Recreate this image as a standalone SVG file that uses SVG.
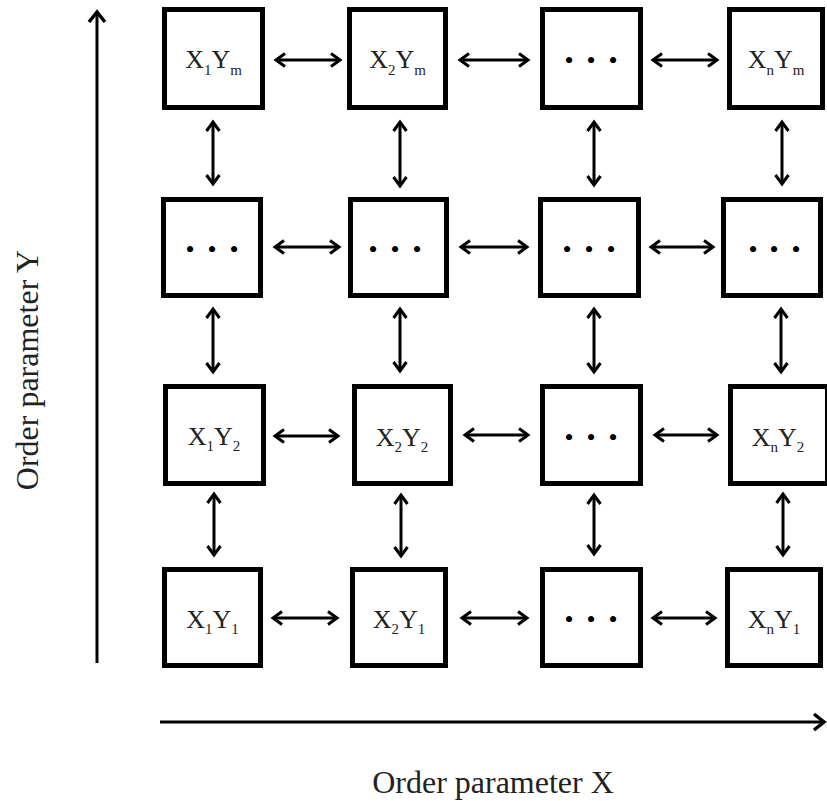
<svg xmlns="http://www.w3.org/2000/svg" width="827" height="801" viewBox="0 0 827 801">
<style>
.box{fill:#fff;stroke:#000;stroke-width:5}
.lbl{font-family:"Liberation Serif","Times New Roman",serif;font-size:26px;fill:#222;text-anchor:middle}
.sub{font-size:15px}
.dots{font-family:"Liberation Serif","Times New Roman",serif;font-size:26px;fill:#000;text-anchor:middle}
.ax{font-family:"Liberation Serif","Times New Roman",serif;font-size:32px;fill:#222;text-anchor:middle}
.c{stroke:#000;stroke-width:3;fill:none;marker-start:url(#ah);marker-end:url(#ah)}
.axis{stroke:#000;stroke-width:3;fill:none;marker-end:url(#axh)}
</style>
<defs>
<marker id="ah" markerUnits="userSpaceOnUse" markerWidth="20" markerHeight="20" refX="12" refY="8" orient="auto-start-reverse" overflow="visible">
<path d="M3,1.5 L12,8 L3,14.5" fill="none" stroke="#000" stroke-width="3" stroke-linejoin="miter"/>
</marker>
<marker id="axh" markerUnits="userSpaceOnUse" markerWidth="24" markerHeight="24" refX="13" refY="10" orient="auto" overflow="visible">
<path d="M3,2 L13,10 L3,18" fill="none" stroke="#000" stroke-width="3.5" stroke-linejoin="miter"/>
</marker>
</defs>

<g id="axes">
<line class="axis" x1="97" y1="663" x2="97" y2="12"/>
<line class="axis" x1="160" y1="722" x2="824" y2="722"/>
<text class="ax" transform="translate(38,370) rotate(-90)">Order parameter Y</text>
<text class="ax" x="493" y="793">Order parameter X</text>
</g>

<g id="connectors">
<!-- horizontal row 1 -->
<line class="c" x1="276" y1="60" x2="340" y2="60"/>
<line class="c" x1="460" y1="60" x2="528" y2="60"/>
<line class="c" x1="653" y1="60" x2="717" y2="60"/>
<!-- row 2 -->
<line class="c" x1="275" y1="247" x2="339" y2="247"/>
<line class="c" x1="461" y1="247" x2="527" y2="247"/>
<line class="c" x1="651" y1="247" x2="713" y2="247"/>
<!-- row 3 -->
<line class="c" x1="275" y1="436" x2="338" y2="436"/>
<line class="c" x1="465" y1="435" x2="528" y2="435"/>
<line class="c" x1="655" y1="435" x2="717" y2="435"/>
<!-- row 4 -->
<line class="c" x1="273" y1="618" x2="337" y2="618"/>
<line class="c" x1="462" y1="618" x2="527" y2="618"/>
<line class="c" x1="653" y1="618" x2="715" y2="618"/>
<!-- vertical col 1 -->
<line class="c" x1="213" y1="122" x2="213" y2="184"/>
<line class="c" x1="213" y1="309" x2="213" y2="372"/>
<line class="c" x1="214" y1="494" x2="214" y2="555"/>
<!-- col 2 -->
<line class="c" x1="400" y1="122" x2="400" y2="186"/>
<line class="c" x1="400" y1="309" x2="400" y2="371"/>
<line class="c" x1="401" y1="495" x2="401" y2="556"/>
<!-- col 3 -->
<line class="c" x1="594" y1="122" x2="594" y2="185"/>
<line class="c" x1="594" y1="309" x2="594" y2="372"/>
<line class="c" x1="594" y1="495" x2="594" y2="554"/>
<!-- col 4 -->
<line class="c" x1="782" y1="122" x2="782" y2="184"/>
<line class="c" x1="781" y1="309" x2="781" y2="372"/>
<line class="c" x1="783" y1="494" x2="783" y2="555"/>
</g>

<!-- Row 1 (Ym) -->
<g id="n-x1-ym"><rect class="box" x="164.5" y="9.5" width="98" height="98"/>
<text class="lbl" x="213.5" y="68">X<tspan class="sub" dy="7">1</tspan><tspan dy="-7">Y</tspan><tspan class="sub" dy="7">m</tspan></text></g>
<g id="n-x2-ym"><rect class="box" x="349.5" y="9.5" width="96" height="98"/>
<text class="lbl" x="397.5" y="68">X<tspan class="sub" dy="7">2</tspan><tspan dy="-7">Y</tspan><tspan class="sub" dy="7">m</tspan></text></g>
<g id="n-dots-ym"><rect class="box" x="542.5" y="9.5" width="98" height="98"/>
<text class="dots" y="69"><tspan x="569">•</tspan><tspan x="591">•</tspan><tspan x="613">•</tspan></text></g>
<g id="n-xn-ym"><rect class="box" x="729.5" y="9.5" width="93" height="98"/>
<text class="lbl" x="776" y="68">X<tspan class="sub" dy="7">n</tspan><tspan dy="-7">Y</tspan><tspan class="sub" dy="7">m</tspan></text></g>

<!-- Row 2 (dots) -->
<g id="n-x1-dots"><rect class="box" x="163.5" y="199.5" width="97" height="96"/>
<text class="dots" y="258"><tspan x="190">•</tspan><tspan x="212">•</tspan><tspan x="234">•</tspan></text></g>
<g id="n-x2-dots"><rect class="box" x="350.5" y="199.5" width="96" height="96"/>
<text class="dots" y="258"><tspan x="373">•</tspan><tspan x="395">•</tspan><tspan x="417">•</tspan></text></g>
<g id="n-dots-dots"><rect class="box" x="540.5" y="199.5" width="98" height="96"/>
<text class="dots" y="258"><tspan x="567">•</tspan><tspan x="589">•</tspan><tspan x="611">•</tspan></text></g>
<g id="n-xn-dots"><rect class="box" x="723.5" y="199.5" width="97" height="96"/>
<text class="dots" y="258"><tspan x="753">•</tspan><tspan x="774">•</tspan><tspan x="796">•</tspan></text></g>

<!-- Row 3 (Y2) -->
<g id="n-x1-y2"><rect class="box" x="165.5" y="386.5" width="98" height="97"/>
<text class="lbl" x="214" y="445">X<tspan class="sub" dy="6">1</tspan><tspan dy="-6">Y</tspan><tspan class="sub" dy="6">2</tspan></text></g>
<g id="n-x2-y2"><rect class="box" x="354.5" y="386.5" width="96" height="97"/>
<text class="lbl" x="402" y="446">X<tspan class="sub" dy="6">2</tspan><tspan dy="-6">Y</tspan><tspan class="sub" dy="6">2</tspan></text></g>
<g id="n-dots-y2"><rect class="box" x="542.5" y="386.5" width="98" height="97"/>
<text class="dots" y="446"><tspan x="569">•</tspan><tspan x="591">•</tspan><tspan x="613">•</tspan></text></g>
<g id="n-xn-y2"><rect class="box" x="730.5" y="386.5" width="97" height="97"/>
<text class="lbl" x="778" y="446">X<tspan class="sub" dy="6">n</tspan><tspan dy="-6">Y</tspan><tspan class="sub" dy="6">2</tspan></text></g>

<!-- Row 4 (Y1) -->
<g id="n-x1-y1"><rect class="box" x="164.5" y="569.5" width="96" height="96"/>
<text class="lbl" x="212.5" y="628">X<tspan class="sub" dy="6">1</tspan><tspan dy="-6">Y</tspan><tspan class="sub" dy="6">1</tspan></text></g>
<g id="n-x2-y1"><rect class="box" x="352.5" y="569.5" width="93" height="96"/>
<text class="lbl" x="399" y="628">X<tspan class="sub" dy="6">2</tspan><tspan dy="-6">Y</tspan><tspan class="sub" dy="6">1</tspan></text></g>
<g id="n-dots-y1"><rect class="box" x="542.5" y="569.5" width="98" height="96"/>
<text class="dots" y="628"><tspan x="569">•</tspan><tspan x="591">•</tspan><tspan x="613">•</tspan></text></g>
<g id="n-xn-y1"><rect class="box" x="727.5" y="569.5" width="93" height="96"/>
<text class="lbl" x="774" y="628">X<tspan class="sub" dy="6">n</tspan><tspan dy="-6">Y</tspan><tspan class="sub" dy="6">1</tspan></text></g>
</svg>
